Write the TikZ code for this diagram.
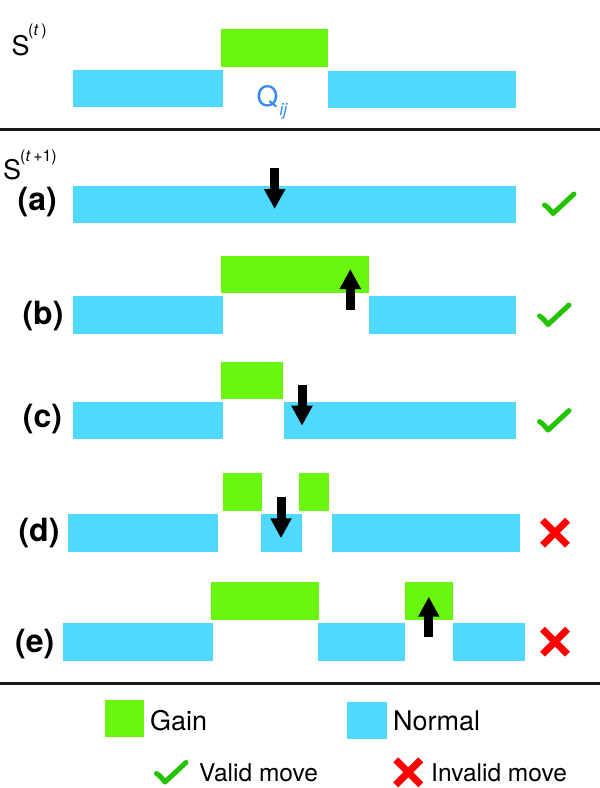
\documentclass[tikz,border=0pt]{standalone}
\usepackage{fontspec}
\setmainfont{TeX Gyre Heros}
\usetikzlibrary{arrows.meta}
\definecolor{gainc}{RGB}{104,245,14}
\definecolor{normc}{RGB}{79,217,255}
\definecolor{qc}{RGB}{50,135,240}
\definecolor{okc}{RGB}{34,196,0}
\definecolor{badc}{RGB}{255,0,0}
\definecolor{rulec}{RGB}{25,25,25}
\tikzset{
  gain/.style={fill=gainc},
  norm/.style={fill=normc},
  mvarrow/.style={line width=9pt, -{Triangle[width=20pt,length=20pt]}},
  rowlab/.style={font=\fontsize{32}{32}\selectfont\bfseries, inner sep=0pt},
  txt/.style={inner sep=0pt, anchor=base west},
  big/.style={font=\fontsize{27}{27}\selectfont},
  sup/.style={font=\fontsize{16}{16}\selectfont},
  leg/.style={font=\fontsize{24.5}{24.5}\selectfont},
  rule/.style={rulec, line width=3pt},
  pics/chk/.style={code={\draw[okc, line width=5pt, line cap=round, line join=round]
      (2.8,13.3) .. controls (6,15) and (8.5,18.5) .. (11.3,21.8) -- (32.3,2.3);}},
  pics/crs/.style={code={\draw[badc, line width=7pt]
      (2.5,2.5) -- (27.5,27.5) (27.5,2.5) -- (2.5,27.5);}},
}
\begin{document}
\begin{tikzpicture}[x=1pt,y=-1pt]
\path[use as bounding box] (0,0) rectangle (600,788);

% ---- S(t)
\node[txt,big] (st) at (11.5,55.5) {S};
\node[txt,sup] (stsup) at (28,35.4) {(\textit{t}\,)};
\fill[gain] (220.7,29.3) rectangle (328.3,66.7);
\fill[norm] (73.3,70) rectangle (222.7,107.3);
\fill[norm] (327.7,70.7) rectangle (515.7,107.7);
\node[txt,qc,font=\fontsize{28}{28}\selectfont] (q) at (256.5,106.5) {Q};
\node[txt,qc,font=\fontsize{17}{17}\selectfont\itshape] (qsub) at (279.5,115.4) {ij};

\draw[rule] (0,129.2) -- (600,129.2);

% ---- S(t+1)
\node[txt,big] (st1) at (3,179.5) {S};
\node[txt,sup] (st1sup) at (20,161.6) {(\textit{t}\,+1)};

% (a)
\node[rowlab] (la) at (37.3,202) {(a)};
\fill[norm] (73.3,185.7) rectangle (515.7,222.7);
\draw[mvarrow] (274.7,167.7) -- (274.7,209);
\pic at (541.7,191.7) {chk};

% (b)
\node[rowlab] (lb) at (43,316) {(b)};
\fill[gain] (220.7,255.7) rectangle (369,292.7);
\fill[norm] (73.3,296) rectangle (222.7,333.7);
\fill[norm] (369.3,296) rectangle (515.7,334);
\draw[mvarrow] (350.3,310) -- (350.3,269);
\pic at (536.7,302.7) {chk};

% (c)
\node[rowlab] (lc) at (42.5,419.5) {(c)};
\fill[gain] (220.7,361.7) rectangle (282.7,399);
\fill[norm] (73.3,402) rectangle (222.7,439.3);
\fill[norm] (284,402) rectangle (515.7,439.3);
\draw[mvarrow] (302,385) -- (302,425.7);
\pic at (536.7,408.3) {chk};

% (d)
\node[rowlab] (ld) at (39,533) {(d)};
\fill[gain] (222.7,473.3) rectangle (262.3,510.7);
\fill[gain] (299.3,473.3) rectangle (329.3,510.7);
\fill[norm] (68.3,514.3) rectangle (218.3,551.7);
\fill[norm] (261,514.3) rectangle (301.7,551.7);
\fill[norm] (332.3,514.3) rectangle (520,551.7);
\draw[mvarrow] (281,497.3) -- (281,538.3);
\pic at (540,517.7) {crs};

% (e)
\node[rowlab] (le) at (34.7,644) {(e)};
\fill[gain] (211,582.3) rectangle (319,619.7);
\fill[gain] (405,582.3) rectangle (452.7,619.7);
\fill[norm] (63.3,623) rectangle (213.3,660.7);
\fill[norm] (318.3,623) rectangle (405,660.7);
\fill[norm] (453.3,623) rectangle (525,660.7);
\draw[mvarrow] (428.8,637.3) -- (428.8,596.7);
\pic at (540,626.7) {crs};

\draw[rule] (0,683.3) -- (600,683.3);

% ---- legend
\fill[gain] (105,700) rectangle (144,736.7);
\node[txt,big] (lgain) at (150,730) {Gain};
\fill[norm] (347.3,701.7) rectangle (386.7,739);
\node[txt,big] (lnorm) at (393,730) {Normal};
\pic at (153.7,760.2) {chk};
\node[txt,leg] (lvalid) at (199,781) {Valid move};
\pic at (393.3,757.3) {crs};
\node[txt,leg] (linvalid) at (431,781) {Invalid move};
\end{tikzpicture}
\end{document}
